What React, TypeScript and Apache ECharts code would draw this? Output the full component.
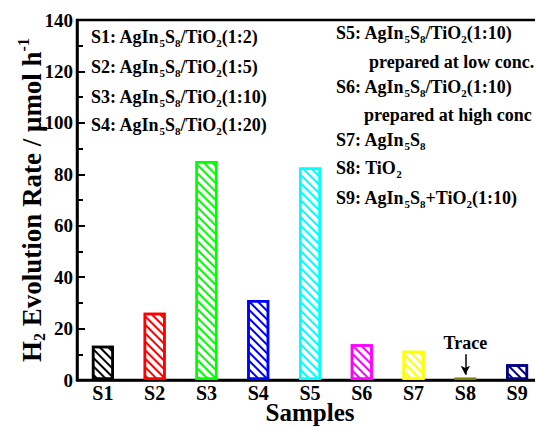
import React, { useEffect, useRef } from "react";
import * as echarts from "echarts";

const categories = ["S1", "S2", "S3", "S4", "S5", "S6", "S7", "S8", "S9"];
const rates = [13.3, 26.2, 85.2, 31.1, 82.6, 13.9, 11.4, 1.0, 6.1];
const barColors = ["#000000", "#ff0000", "#00ff00", "#0000ff", "#00ffff", "#ff00ff", "#ffff00", "#808000", "#000080"];
const solidBars = ["S8"];
const yMin = 0;
const yMax = 140;
const yStep = 20;
const legendLeft = [
  "S1: AgIn_5S_8/TiO_2(1:2)",
  "S2: AgIn_5S_8/TiO_2(1:5)",
  "S3: AgIn_5S_8/TiO_2(1:10)",
  "S4: AgIn_5S_8/TiO_2(1:20)",
];
const legendRight = [
  "S5: AgIn_5S_8/TiO_2(1:10)",
  "prepared at low conc.",
  "S6: AgIn_5S_8/TiO_2(1:10)",
  "prepared at high conc",
  "S7: AgIn_5S_8",
  "S8: TiO_2",
  "S9: AgIn_5S_8+TiO_2(1:10)",
];
const traceLabel = "Trace";
const traceFrom = 10;
const traceTo = 2;

const FONT = "Liberation Serif";

function toRich(s: string): string {
  const parts = s.split(/_(\w)/);
  let out = "";
  parts.forEach((p, i) => {
    if (p === "") return;
    out += i % 2 === 1 ? `{s|${p}}` : `{m|${p}}`;
  });
  return out;
}

const richStyles = {
  m: { fontFamily: FONT, fontWeight: "bold", fontSize: 18, lineHeight: 18, color: "#000" },
  s: { fontFamily: FONT, fontWeight: "bold", fontSize: 11, lineHeight: 11, padding: [12, 0, 0, 0], color: "#000" },
};

export default function App() {
  const ref = useRef<HTMLDivElement>(null);
  useEffect(() => {
    if (!ref.current) return;
    const chart = echarts.init(ref.current, undefined, { renderer: "svg" });
    const leftX = 91;
    const leftY = [37, 67, 97, 125];
    const rightX = [336, 369, 336, 364, 336, 336, 336];
    const rightY = [33, 62, 87, 115, 140, 168, 198];
    const graphics: any[] = [];
    legendLeft.forEach((t, i) => {
      graphics.push({
        type: "text",
        x: leftX,
        y: leftY[i],
        style: { text: toRich(t), rich: richStyles, verticalAlign: "middle", align: "left" },
      });
    });
    legendRight.forEach((t, i) => {
      graphics.push({
        type: "text",
        x: rightX[i],
        y: rightY[i],
        style: { text: toRich(t), rich: richStyles, verticalAlign: "middle", align: "left" },
      });
    });

    const data = rates.map((v, i) => {
      const c = barColors[i];
      const solid = solidBars.includes(categories[i]);
      return {
        value: v,
        itemStyle: solid
          ? { color: c, borderColor: c, borderWidth: 1.5 }
          : {
              color: "#ffffff",
              borderColor: c,
              borderWidth: 2.5,
              decal: {
                symbol: "rect",
                symbolSize: 1,
                color: c,
                dashArrayX: [1, 0],
                dashArrayY: [1.3, 3.7],
                rotation: Math.PI / 4,
              },
            },
      };
    });

    chart.setOption({
      animation: false,
      backgroundColor: "#ffffff",
      grid: {
        left: 77,
        top: 20,
        width: 466,
        height: 360,
        show: true,
        borderColor: "#000",
        borderWidth: 2.5,
        backgroundColor: "transparent",
        containLabel: false,
        outerBoundsMode: "none",
      },
      xAxis: {
        type: "category",
        data: categories,
        boundaryGap: true,
        axisLine: { lineStyle: { color: "#000", width: 2.5 } },
        axisTick: { show: false },
        axisLabel: { fontFamily: FONT, fontWeight: "bold", fontSize: 20, lineHeight: 17, color: "#000", margin: 4 },
        name: "Samples",
        nameLocation: "middle",
        nameGap: 22,
        nameMoveOverlap: false,
        nameTextStyle: { fontFamily: FONT, fontWeight: "bold", fontSize: 25, lineHeight: 20, color: "#000" },
      },
      yAxis: {
        type: "value",
        min: yMin,
        max: yMax,
        interval: yStep,
        axisLine: { show: true, lineStyle: { color: "#000", width: 2.5 } },
        axisTick: { show: true, inside: true, length: 8, lineStyle: { color: "#000", width: 2 } },
        minorTick: { show: true, splitNumber: 2, length: 6, lineStyle: { color: "#000", width: 2 } },
        splitLine: { show: false },
        axisLabel: { fontFamily: FONT, fontWeight: "bold", fontSize: 19, color: "#000", margin: 4 },
        name: "{m|H}{s|2}{m| Evolution Rate / μmol h}{p|-1}",
        nameLocation: "middle",
        nameGap: 32,
        nameMoveOverlap: false,
        nameTextStyle: {
          rich: {
            m: { fontFamily: FONT, fontWeight: "bold", fontSize: 27, lineHeight: 27, color: "#000" },
            s: { fontFamily: FONT, fontWeight: "bold", fontSize: 16, lineHeight: 16, padding: [16, 0, 0, 0], color: "#000" },
            p: { fontFamily: FONT, fontWeight: "bold", fontSize: 16, lineHeight: 16, padding: [0, 0, 16, 0], color: "#000" },
          },
        },
      },
      series: [
        {
          type: "bar",
          data,
          barWidth: 22,
          markLine: {
            silent: true,
            symbol: ["none", "arrow"],
            symbolSize: [7, 9],
            lineStyle: { color: "#000", width: 1.5, type: "solid" },
            label: {
              show: true,
              position: "start",
              formatter: traceLabel,
              fontFamily: FONT,
              fontWeight: "bold",
              fontSize: 18,
              color: "#000",
              distance: 2,
            },
            data: [[{ coord: ["S8", traceFrom] }, { coord: ["S8", traceTo] }]],
          },
        },
      ],
      graphic: graphics,
    });
    return () => chart.dispose();
  }, []);
  return (
    <div
      ref={ref}
      style={{ position: "fixed", left: 0, top: 0, width: 535, height: 427, background: "#fff" }}
    />
  );
}
